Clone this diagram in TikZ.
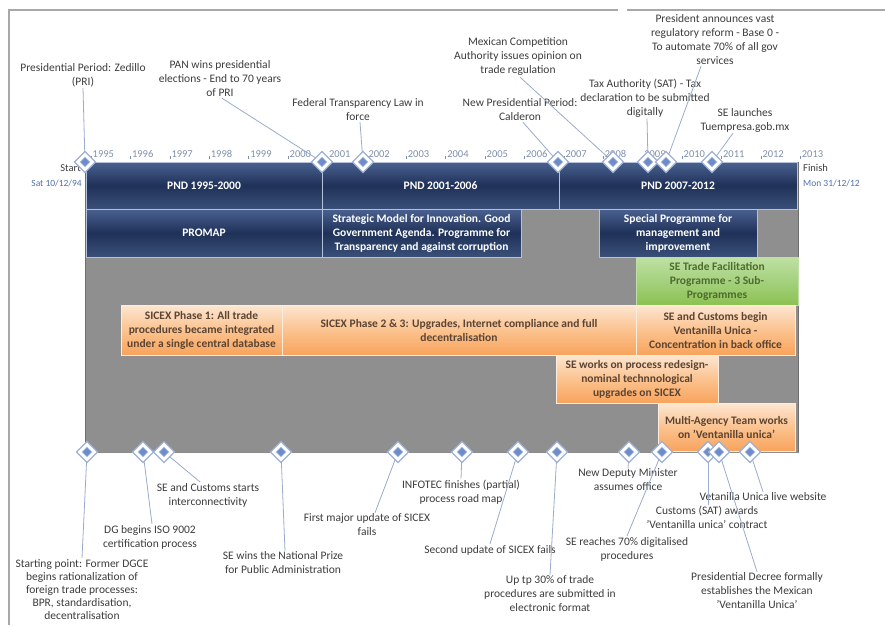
\documentclass[tikz,border=0pt]{standalone}
\usepackage{fontspec}
\setmainfont{Carlito}
\usetikzlibrary{shapes.geometric}
\definecolor{frameC}{HTML}{A8A8A8}
\definecolor{greyBg}{HTML}{8F8F8F}
\definecolor{greyEdge}{HTML}{6F6F6F}
\definecolor{navyTop}{HTML}{4A6190}
\definecolor{navyMid}{HTML}{1F3158}
\definecolor{navyBot}{HTML}{3A5079}
\definecolor{navyEdge}{HTML}{B4C1DA}
\definecolor{orTop}{HTML}{FDE6D2}
\definecolor{orMid}{HTML}{FBC38F}
\definecolor{orBot}{HTML}{F8A35C}
\definecolor{orText}{HTML}{5B4433}
\definecolor{grTop}{HTML}{BFE0A4}
\definecolor{grMid}{HTML}{A4D17E}
\definecolor{grBot}{HTML}{8CC152}
\definecolor{grText}{HTML}{4F6B2E}
\definecolor{lblText}{HTML}{3C3C3C}
\definecolor{connC}{HTML}{9AABCB}
\definecolor{diaEdge}{HTML}{9DB0D4}
\definecolor{diaFill}{HTML}{6C8CCB}
\definecolor{diaIn}{HTML}{B3C3E2}
\definecolor{yrC}{HTML}{7F8FAA}
\definecolor{dateC}{HTML}{4F70AA}
\tikzset{
  lbl/.style={align=center, text=lblText, font=\fontsize{11.5}{14}\selectfont, inner sep=1pt},
  conn/.style={draw=connC, line width=0.8pt},
  dia/.style={diamond, draw=diaEdge, fill=white, line width=1.3pt, minimum size=21pt, inner sep=0pt, outer sep=0pt},
  dot/.style={diamond, fill=diaFill, draw=diaIn, line width=0.7pt, minimum size=10pt, inner sep=0pt},
  navybox/.style={draw=navyEdge, line width=0.8pt, top color=navyTop, bottom color=navyBot, middle color=navyMid, text=white, font=\bfseries\fontsize{11.5}{14}\selectfont, align=center, inner sep=0pt, outer sep=0pt},
  orbox/.style={draw=orTop!70!white, line width=0.6pt, top color=orTop, bottom color=orBot, middle color=orMid, text=orText, font=\bfseries\fontsize{11.5}{14}\selectfont, align=center, inner sep=0pt, outer sep=0pt},
  grbox/.style={draw=grTop, line width=0.6pt, top color=grTop, bottom color=grBot, middle color=grMid, text=grText, font=\bfseries\fontsize{11.5}{14}\selectfont, align=center, inner sep=0pt, outer sep=0pt},
  yrlbl/.style={text=yrC, font=\fontsize{10.5}{12}\selectfont, inner sep=0pt, anchor=west},
}
\begin{document}
\begin{tikzpicture}[x=1pt,y=-1pt]
\useasboundingbox (0,0) rectangle (885,625);
% frame
\draw[frameC, line width=1.5pt] (9,625) -- (9,10) -- (618,10);
\draw[frameC, line width=1.5pt] (627,10) -- (885,10);
% grey background
\fill[greyBg] (85,162) rectangle (799,452);
\draw[greyEdge, line width=1pt] (85,162) -- (85,452);
\draw[greyEdge, line width=1.2pt] (798.5,162) -- (798.5,452);
\draw[greyEdge!80!white, line width=0.6pt] (85,452) -- (799,452);
% year scale
\foreach \yr in {1995,...,2013} {
  \pgfmathsetmacro\xx{91+(\yr-1995)*39.4}
  \draw[yrC, line width=0.5pt] (\xx,156) -- (\xx,159);
  \node[yrlbl] (yr\yr) at (\xx+1.5,154) {\yr};
}
% navy bars
\node[navybox, minimum width=236pt, minimum height=47pt] (pnd1) at (204,185.5) {PND 1995-2000};
\node[navybox, minimum width=237pt, minimum height=47pt] (pnd2) at (440.5,185.5) {PND 2001-2006};
\node[navybox, minimum width=238pt, minimum height=47pt] (pnd3) at (678,185.5) {PND 2007-2012};
\node[navybox, minimum width=236pt, minimum height=48pt] (promap) at (204,233) {PROMAP};
\node[navybox, minimum width=199pt, minimum height=48pt] (strat) at (421.5,233) {Strategic Model for Innovation. Good\\Government Agenda. Programme for\\Transparency and against corruption};
\node[navybox, minimum width=158pt, minimum height=48pt] (special) at (678,233) {Special Programme for\\management and\\improvement};
% green
\node[grbox, minimum width=162pt, minimum height=48pt] (setf) at (717,281) {SE Trade Facilitation\\Programme - 3 Sub-\\Programmes};
% orange
\node[orbox, minimum width=161pt, minimum height=50pt] (sicex1) at (201.5,330) {SICEX Phase 1: All trade\\procedures became integrated\\under a single central database};
\node[orbox, minimum width=354pt, minimum height=50pt] (sicex23) at (459,330) {SICEX Phase 2 \& 3: Upgrades, Internet compliance and full\\decentralisation};
\node[orbox, minimum width=159pt, minimum height=50pt] (secust) at (715.5,330) {SE and Customs begin\\Ventanilla Unica -\\Concentration in back office};
\node[orbox, minimum width=162pt, minimum height=48pt] (sework) at (637,379) {SE works on process redesign-\\nominal technnological\\upgrades on SICEX};
\node[orbox, minimum width=137pt, minimum height=48pt] (multi) at (726.5,427) {Multi-Agency Team works\\on 'Ventanilla unica'};
% start / finish
\node[anchor=east, text=lblText, font=\fontsize{10.5}{12}\selectfont, inner sep=0pt] (start) at (81,168) {Start};
\node[anchor=east, text=dateC, font=\fontsize{9.5}{11}\selectfont, inner sep=0pt] (sdate) at (82,183) {Sat 10/12/94};
\node[anchor=west, text=lblText, font=\fontsize{10.5}{12}\selectfont, inner sep=0pt] (finish) at (803,168) {Finish};
\node[anchor=west, text=dateC, font=\fontsize{9.5}{11}\selectfont, inner sep=0pt] (fdate) at (803,183) {Mon 31/12/12};
% top labels
\node[lbl] (l1) at (83,75) {Presidential Period: Zedillo\\(PRI)};
\node[lbl] (l2) at (220,79) {PAN wins presidential\\elections - End to 70 years\\of PRI};
\node[lbl] (l3) at (358,110) {Federal Transparency Law in\\force};
\node[lbl] (l4) at (518,57) {Mexican Competition\\Authority issues opinion on\\trade regulation};
\node[lbl] (l5) at (520,110) {New Presidential Period:\\Calderon};
\node[lbl] (l6) at (645,98) {Tax Authority (SAT) - Tax\\declaration to be submitted\\digitally};
\node[lbl] (l7) at (715,40) {President announces vast\\regulatory reform - Base 0 -\\To automate 70\% of all gov\\services};
\node[lbl] (l8) at (745,120) {SE launches\\Tuempresa.gob.mx};
% bottom labels
\node[lbl, anchor=north, font=\fontsize{11.5}{13.2}\selectfont] (b1l) at (82,558) {Starting point: Former DGCE\\begins rationalization of\\foreign trade processes:\\BPR, standardisation,\\decentralisation};
\node[lbl] (b2l) at (150,537) {DG begins ISO 9002\\certification process};
\node[lbl] (b3l) at (208,495) {SE and Customs starts\\interconnectivity};
\node[lbl] (b4l) at (283,563) {SE wins the National Prize\\for Public Administration};
\node[lbl] (b5l) at (367,525) {First major update of SICEX\\fails};
\node[lbl] (b6l) at (461,492) {INFOTEC finishes (partial)\\process road map};
\node[lbl] (b7l) at (490,550) {Second update of SICEX fails};
\node[lbl] (b8l) at (550,594) {Up tp 30\% of trade\\procedures are submitted in\\electronic format};
\node[lbl] (b9l) at (628,480) {New Deputy Minister\\assumes office};
\node[lbl] (b10l) at (627,549) {SE reaches 70\% digitalised\\procedures};
\node[lbl] (b11l) at (707,517) {Customs (SAT) awards\\'Ventanilla unica' contract};
\node[lbl] (b12l) at (757,591) {Presidential Decree formally\\establishes the Mexican\\'Ventanilla Unica'};
\node[lbl] (b13l) at (763,497) {Vetanilla Unica live website};
% top diamonds
\foreach \n/\x in {t1/85,t2/322,t3/363,t4/558,t5/613,t6/648,t7/666,t8/712} {
  \node[dia] (\n) at (\x,162) {};
  \node[dot] (\n d) at (\x,162) {};
}
% bottom diamonds
\foreach \n/\x in {b1/87,b2/143,b3/164,b4/281,b5/398,b6/462,b7/518,b8/557,b9/629,b10/662,b11/708,b12/719,b13/750} {
  \node[dia] (\n) at (\x,452) {};
  \node[dot] (\n d) at (\x,452) {};
}
% top connectors
\draw[conn] (l1.south) -- (t1);
\draw[conn] ([xshift=2pt]l2.south) -- (t2);
\draw[conn] ([xshift=2pt]l3.south) -- (t3);
\draw[conn] ([xshift=2pt]l4.south) -- (t5);
\draw[conn] ([xshift=3pt]l5.south) -- (t4);
\draw[conn] ([xshift=2pt]l6.south) -- (t6);
\draw[conn] ([xshift=-14pt]l7.south) -- (t7);
\draw[conn] ([xshift=-12pt]l8.south) -- (t8);
% bottom connectors
\draw[conn] (b1) -- (b1l.north);
\draw[conn] (b2) -- ([xshift=2pt]b2l.north);
\draw[conn] (b3) -- ([xshift=-8pt]b3l.north);
\draw[conn] (b4) -- ([xshift=2pt]b4l.north);
\draw[conn] (b5) -- ([xshift=8pt]b5l.north);
\draw[conn] (b6) -- (b6l.north);
\draw[conn] (b7) -- (b7l.north);
\draw[conn] (b8) -- (b8l.north);
\draw[conn] (b9) -- (b9l.north);
\draw[conn] (b10) -- (b10l.north);
\draw[conn] (b11) -- ([xshift=1pt]b11l.north);
\draw[conn] (b12) -- (b12l.north);
\draw[conn] (b13) -- (b13l.north);
\end{tikzpicture}
\end{document}
